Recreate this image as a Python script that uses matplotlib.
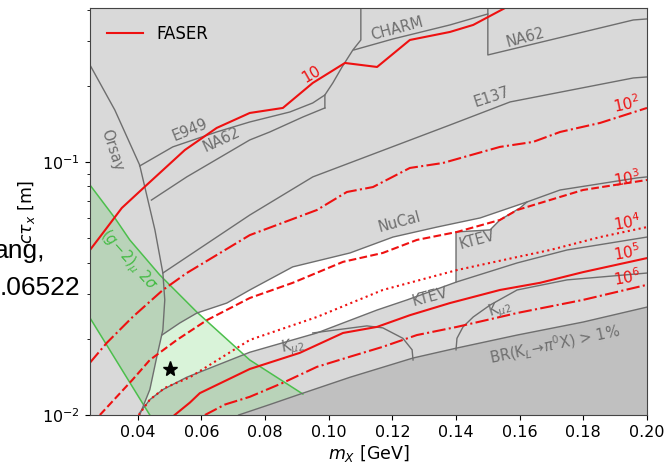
import numpy as np
import matplotlib.pyplot as plt

# FASER reach contours (m_X in GeV, c tau in m), labelled by number of events
m_10 = [0.025, 0.0281, 0.035, 0.0428, 0.0548, 0.0648, 0.0752, 0.0856, 0.095, 0.1051, 0.1152, 0.1255, 0.1381, 0.1454, 0.1554]
ct_10 = [0.0449, 0.0505, 0.0658, 0.0811, 0.1115, 0.1363, 0.1562, 0.1635, 0.2053, 0.2462, 0.2374, 0.3035, 0.3265, 0.348, 0.406]

m_1e2 = [0.025, 0.0303, 0.0384, 0.0479, 0.0554, 0.0752, 0.0963, 0.1057, 0.1139, 0.1255, 0.1359, 0.1538, 0.1642, 0.1727, 0.1853, 0.2]
ct_1e2 = [0.0161, 0.0193, 0.0244, 0.0312, 0.0364, 0.0514, 0.0646, 0.0761, 0.0796, 0.0947, 0.0991, 0.1147, 0.12, 0.1314, 0.1427, 0.1635]

m_1e3 = [0.0281, 0.0384, 0.0438, 0.0523, 0.0617, 0.0752, 0.0887, 0.1045, 0.117, 0.1277, 0.1403, 0.1538, 0.1592, 0.1799, 0.2]
ct_1e3 = [0.0100, 0.0138, 0.0165, 0.0198, 0.0237, 0.0290, 0.0333, 0.0403, 0.0437, 0.0492, 0.0529, 0.0590, 0.0646, 0.0775, 0.0849]

m_1e4 = [0.0403, 0.0438, 0.0485, 0.0564, 0.0752, 0.0963, 0.117, 0.1403, 0.1592, 0.1696, 0.1853, 0.2]
ct_1e4 = [0.0100, 0.0115, 0.0128, 0.0141, 0.0198, 0.0244, 0.0312, 0.0374, 0.0421, 0.0449, 0.0505, 0.0553]

m_1e5 = [0.0516, 0.0564, 0.0595, 0.0752, 0.0909, 0.1045, 0.1152, 0.1255, 0.1381, 0.1538, 0.1664, 0.1799, 0.2]
ct_1e5 = [0.0100, 0.0112, 0.0122, 0.0152, 0.0176, 0.0211, 0.0223, 0.0248, 0.0277, 0.0312, 0.0333, 0.0367, 0.0417]

m_1e6 = [0.0611, 0.0674, 0.0752, 0.0856, 0.0963, 0.1067, 0.117, 0.1277, 0.1403, 0.1538, 0.1592, 0.1799, 0.2]
ct_1e6 = [0.0100, 0.0110, 0.0118, 0.0134, 0.0155, 0.0170, 0.0186, 0.0207, 0.0223, 0.0244, 0.0253, 0.0285, 0.0327]

# existing constraints (boundaries)
m_orsay = [0.025, 0.0328, 0.0406, 0.0454, 0.0479, 0.0485, 0.0479, 0.046, 0.0438, 0.0406]
ct_orsay = [0.2417, 0.1605, 0.0973, 0.0539, 0.0364, 0.0285, 0.0217, 0.0170, 0.0126, 0.0100]

m_e949 = [0.0406, 0.051, 0.0648, 0.0752, 0.0878, 0.095, 0.0988]
ct_e949 = [0.0964, 0.1147, 0.1314, 0.1439, 0.1576, 0.1711, 0.1840]

m_edge = [0.0988, 0.0988, 0.1013, 0.1042, 0.1076, 0.1101, 0.1101]
ct_edge = [0.1635, 0.1840, 0.2053, 0.2374, 0.2771, 0.3035, 0.41]

m_na62 = [0.0443, 0.0554, 0.0752, 0.0815, 0.0919, 0.0988]
ct_na62 = [0.0707, 0.0873, 0.1222, 0.1314, 0.1506, 0.1635]

m_charm = [0.1079, 0.1202, 0.1381, 0.15]
ct_charm = [0.2771, 0.3063, 0.348, 0.3846]

m_na62b = [0.15, 0.15, 0.1957, 0.2]
ct_na62b = [0.41, 0.2648, 0.3641, 0.3675]

m_e137 = [0.0479, 0.0564, 0.0752, 0.095, 0.1381, 0.157, 0.1957, 0.2]
ct_e137 = [0.0364, 0.0429, 0.0617, 0.0873, 0.1400, 0.1727, 0.2148, 0.2168]

m_nucal = [0.0476, 0.0532, 0.0586, 0.068, 0.0752, 0.0887, 0.1067, 0.1202, 0.134, 0.1476, 0.1623, 0.1727, 0.1969, 0.2]
ct_nucal = [0.0207, 0.0231, 0.0253, 0.0277, 0.0312, 0.0385, 0.0437, 0.0505, 0.0553, 0.0601, 0.0695, 0.0775, 0.0865, 0.0873]

m_ktev1 = [0.14, 0.14, 0.1507, 0.1538, 0.1601, 0.1623]
ct_ktev1 = [0.0336, 0.0529, 0.0539, 0.0590, 0.0658, 0.0695]

m_ktev2 = [0.0406, 0.0438, 0.0479, 0.0554, 0.0752, 0.0963, 0.1152, 0.1246, 0.1403, 0.1592, 0.1749, 0.2]
ct_ktev2 = [0.0102, 0.0115, 0.0126, 0.0141, 0.0177, 0.0211, 0.0260, 0.0285, 0.0336, 0.0399, 0.0449, 0.0505]

m_kmu2a = [0.095, 0.112, 0.117, 0.1233, 0.1262, 0.1265]
ct_kmu2a = [0.0211, 0.0225, 0.0221, 0.0201, 0.0181, 0.0165]

m_kmu2b = [0.14, 0.1403, 0.1422, 0.1454, 0.1507, 0.1592, 0.1749, 0.2]
ct_kmu2b = [0.0181, 0.0201, 0.0223, 0.0244, 0.0272, 0.0312, 0.0342, 0.0364]

m_br = [0.0717, 0.0815, 0.0919, 0.1067, 0.1265, 0.1403, 0.1592, 0.1799, 0.2]
ct_br = [0.0100, 0.0110, 0.0122, 0.0141, 0.0168, 0.0184, 0.0207, 0.0233, 0.0267]

# (g-2)_mu 2 sigma band edges
m_g2_up = [0.025, 0.0328, 0.0375, 0.0469, 0.0586, 0.0752, 0.0919]
ct_g2_up = [0.0811, 0.0601, 0.0492, 0.0358, 0.0255, 0.0165, 0.0121]
m_g2_lo = [0.025, 0.0438]
ct_g2_lo = [0.0242, 0.0100]

m_star, ct_star = 0.05, 0.0152

gcol = '#6e6e6e'
red = '#ee1111'
green = '#4cbf4c'

fig = plt.figure(figsize=(6.69, 4.65), dpi=100)
ax = fig.add_axes([0.1345, 0.1075, 0.8326, 0.8753])
ax.set_yscale('log')
ax.set_xlim(0.025, 0.2)
ax.set_ylim(0.01, 0.406)
ax.set_facecolor('#d9d9d9')

# allowed (white) region
low = np.array(ct_orsay) <= 0.0217
wx = m_nucal[:11] + m_ktev1[::-1] + m_ktev2[:9][::-1] + list(np.array(m_orsay)[low][::-1])
wy = ct_nucal[:11] + ct_ktev1[::-1] + ct_ktev2[:9][::-1] + list(np.array(ct_orsay)[low][::-1])
ax.fill(wx, wy, color='white', lw=0, zorder=1)

# BR(K_L -> pi0 X) > 1% region
ax.fill(m_br + [0.2], ct_br + [0.01], color='#c0c0c0', lw=0, zorder=1.5)

# g-2 band, ending on the BR boundary
gx = m_g2_up + m_br[2::-1] + m_g2_lo[::-1]
gy = ct_g2_up + ct_br[2::-1] + ct_g2_lo[::-1]
ax.fill(gx, gy, color='#18b818', alpha=0.16, lw=0, zorder=2)
ax.plot(m_g2_up, ct_g2_up, color=green, lw=1.1, zorder=3)
ax.plot(m_g2_lo, ct_g2_lo, color=green, lw=1.1, zorder=3)

for mm, cc in [(m_orsay, ct_orsay), (m_e949, ct_e949), (m_edge, ct_edge), (m_na62, ct_na62),
               (m_charm, ct_charm), (m_na62b, ct_na62b), (m_e137, ct_e137), (m_nucal, ct_nucal),
               (m_ktev1, ct_ktev1), (m_ktev2, ct_ktev2), (m_kmu2a, ct_kmu2a), (m_kmu2b, ct_kmu2b),
               (m_br, ct_br)]:
    ax.plot(mm, cc, color=gcol, lw=1.0, zorder=3)

ax.plot(m_10, ct_10, color=red, lw=1.5, zorder=4, label='FASER')
ax.plot(m_1e2, ct_1e2, color=red, lw=1.5, ls='-.', zorder=4)
ax.plot(m_1e3, ct_1e3, color=red, lw=1.5, ls='--', zorder=4)
ax.plot(m_1e4, ct_1e4, color=red, lw=1.5, ls=':', zorder=4)
ax.plot(m_1e5, ct_1e5, color=red, lw=1.5, zorder=4)
ax.plot(m_1e6, ct_1e6, color=red, lw=1.5, ls='-.', zorder=4)

ax.plot(m_star, ct_star, marker='*', color='black', ms=11, zorder=5)

# labels
lab = dict(color=gcol, fontsize=10.5, ha='center', va='center', zorder=6)
ax.text(0.0318, 0.1115, 'Orsay', rotation=-72, **lab)
ax.text(0.0564, 0.1338, 'E949', rotation=22, **lab)
ax.text(0.0664, 0.1222, 'NA62', rotation=25, **lab)
ax.text(0.1215, 0.3355, 'CHARM', rotation=15, **lab)
ax.text(0.1617, 0.309, 'NA62', rotation=15, **lab)
ax.text(0.1513, 0.1807, 'E137', rotation=18, **lab)
ax.text(0.1224, 0.0579, 'NuCal', rotation=15, **lab)
ax.text(0.1466, 0.0492, 'KTEV', rotation=15, **lab)
ax.text(0.1318, 0.0293, 'KTEV', rotation=15, **lab)
ax.text(0.0887, 0.0186, r'K$_{\mu 2}$', rotation=10, **lab)
ax.text(0.1538, 0.0260, r'K$_{\mu 2}$', rotation=18, **lab)
ax.text(0.1711, 0.0189, r'BR(K$_L\!\to\!\pi^0$X) > 1%', rotation=12, **lab)

rl = dict(color=red, fontsize=11, ha='center', va='center', zorder=6)
ax.text(0.0947, 0.2227, '10', rotation=30, **rl)
ax.text(0.1935, 0.1696, r'$10^2$', rotation=12, **rl)
ax.text(0.1938, 0.0865, r'$10^3$', rotation=10, **rl)
ax.text(0.1938, 0.0577, r'$10^4$', rotation=10, **rl)
ax.text(0.1938, 0.0441, r'$10^5$', rotation=10, **rl)
ax.text(0.1938, 0.0351, r'$10^6$', rotation=10, **rl)

ax.text(0.0369, 0.0410, r'$(g\!-\!2)_\mu\ 2\sigma$', rotation=-48, color='#44bb44',
        fontsize=10.5, ha='center', va='center', zorder=6)

ax.legend(loc='upper left', frameon=False, fontsize=12, handlelength=2.2,
          borderaxespad=0.6)

ax.set_xticks([0.04, 0.06, 0.08, 0.10, 0.12, 0.14, 0.16, 0.18, 0.20])
ax.set_xticklabels(['0.04', '0.06', '0.08', '0.10', '0.12', '0.14', '0.16', '0.18', '0.20'])
ax.tick_params(labelsize=11.5)
ax.set_xlabel(r'$m_X$ [GeV]', fontsize=12.5, labelpad=2)
ax.set_ylabel(r'$c\tau_x$ [m]', fontsize=12.5, labelpad=4)
for s in ax.spines.values():
    s.set_color('#444444')
    s.set_zorder(7)

# pasted citation text cut at the left edge
fig.text(45 / 669, 1 - 258 / 465, 'ang,', fontsize=19, family='Liberation Sans', ha='right', va='baseline')
fig.text(80 / 669, 1 - 295 / 465, '.06522', fontsize=19, family='Liberation Sans', ha='right', va='baseline')

fig.savefig('out.png', dpi=100)
